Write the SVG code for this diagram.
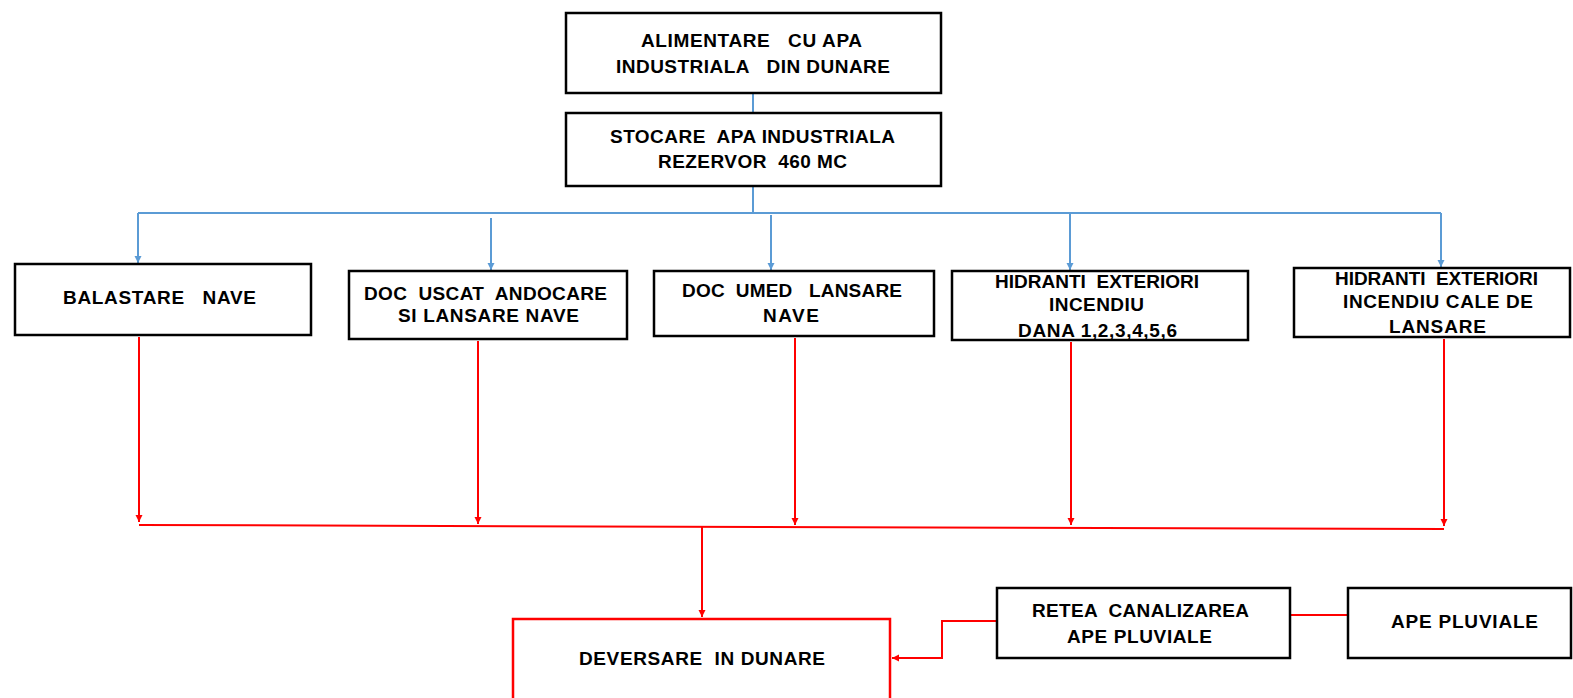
<svg xmlns="http://www.w3.org/2000/svg" width="1573" height="698" viewBox="0 0 1573 698">
<style>
.box{fill:#fff;stroke:#000;stroke-width:2.5}
.rbox{fill:#fff;stroke:#f00;stroke-width:2.5}
.t{font-family:"Liberation Sans",Arial,sans-serif;font-weight:bold;font-size:19px;fill:#000;white-space:pre}
.b{fill:none;stroke:#5b9bd5;stroke-width:2}
.r{fill:none;stroke:#f00;stroke-width:2}
</style>
<defs>
<marker id="ab" markerUnits="userSpaceOnUse" markerWidth="10" markerHeight="10" refX="7" refY="3.5" orient="auto"><path d="M0,0 L7,3.5 L0,7 z" fill="#5b9bd5"/></marker>
<marker id="ar" markerUnits="userSpaceOnUse" markerWidth="10" markerHeight="10" refX="7" refY="3.5" orient="auto"><path d="M0,0 L7,3.5 L0,7 z" fill="#f00"/></marker>
</defs>
<rect width="1573" height="698" fill="#fff"/>
<g id="connectors">
<path class="b" d="M753,94 V112"/>
<path class="b" d="M753,187 V213"/>
<path class="b" d="M138,213 H1441"/>
<path class="b" d="M138,213 V263" marker-end="url(#ab)"/>
<path class="b" d="M491,218 V270" marker-end="url(#ab)"/>
<path class="b" d="M771,215 V270" marker-end="url(#ab)"/>
<path class="b" d="M1070,213 V270" marker-end="url(#ab)"/>
<path class="b" d="M1441,213 V267" marker-end="url(#ab)"/>
<path class="r" d="M139,525 L1444,529"/>
<path class="r" d="M139,337 V522" marker-end="url(#ar)"/>
<path class="r" d="M478,341 V524" marker-end="url(#ar)"/>
<path class="r" d="M795,338 V525" marker-end="url(#ar)"/>
<path class="r" d="M1071,342 V525" marker-end="url(#ar)"/>
<path class="r" d="M1444,339 V526" marker-end="url(#ar)"/>
<path class="r" d="M702,527 V617" marker-end="url(#ar)"/>
<path class="r" d="M996,621 H942 V658 H892" marker-end="url(#ar)"/>
<path class="r" d="M1291,615 H1347"/>
</g>
<g id="n1"><rect class="box" x="566" y="13" width="375" height="80"/>
<text class="t" x="641" y="47" textLength="221" lengthAdjust="spacing">ALIMENTARE   CU APA</text>
<text class="t" x="616" y="73" textLength="274" lengthAdjust="spacing">INDUSTRIALA   DIN DUNARE</text></g>
<g id="n2"><rect class="box" x="566" y="113" width="375" height="73"/>
<text class="t" x="610" y="143" textLength="285" lengthAdjust="spacing">STOCARE  APA INDUSTRIALA</text>
<text class="t" x="658" y="168" textLength="189" lengthAdjust="spacing">REZERVOR  460 MC</text></g>
<g id="n3"><rect class="box" x="15" y="264" width="296" height="71"/>
<text class="t" x="63" y="304" textLength="193" lengthAdjust="spacing">BALASTARE   NAVE</text></g>
<g id="n4"><rect class="box" x="349" y="271" width="278" height="68"/>
<text class="t" x="364" y="300" textLength="243" lengthAdjust="spacing">DOC  USCAT  ANDOCARE</text>
<text class="t" x="398" y="322" textLength="181" lengthAdjust="spacing">SI LANSARE NAVE</text></g>
<g id="n5"><rect class="box" x="654" y="271" width="280" height="65"/>
<text class="t" x="682" y="297" textLength="220" lengthAdjust="spacing">DOC  UMED   LANSARE</text>
<text class="t" x="763" y="322" textLength="56" lengthAdjust="spacing">NAVE</text></g>
<g id="n6"><rect class="box" x="952" y="271" width="296" height="69"/>
<text class="t" x="995" y="288" textLength="204" lengthAdjust="spacing">HIDRANTI  EXTERIORI</text>
<text class="t" x="1049" y="311" textLength="95" lengthAdjust="spacing">INCENDIU</text>
<text class="t" x="1018" y="337" textLength="159" lengthAdjust="spacing">DANA 1,2,3,4,5,6</text></g>
<g id="n7"><rect class="box" x="1294" y="268" width="276" height="69"/>
<text class="t" x="1335" y="285" textLength="203" lengthAdjust="spacing">HIDRANTI  EXTERIORI</text>
<text class="t" x="1343" y="308" textLength="190" lengthAdjust="spacing">INCENDIU CALE DE</text>
<text class="t" x="1389" y="333" textLength="97" lengthAdjust="spacing">LANSARE</text></g>
<g id="n8"><rect class="rbox" x="513" y="619" width="377" height="100"/>
<text class="t" x="579" y="665" textLength="246" lengthAdjust="spacing">DEVERSARE  IN DUNARE</text></g>
<g id="n9"><rect class="box" x="997" y="588" width="293" height="70"/>
<text class="t" x="1032" y="617" textLength="217" lengthAdjust="spacing">RETEA  CANALIZAREA</text>
<text class="t" x="1067" y="643" textLength="145" lengthAdjust="spacing">APE PLUVIALE</text></g>
<g id="n10"><rect class="box" x="1348" y="588" width="223" height="70"/>
<text class="t" x="1391" y="628" textLength="147" lengthAdjust="spacing">APE PLUVIALE</text></g>
</svg>
